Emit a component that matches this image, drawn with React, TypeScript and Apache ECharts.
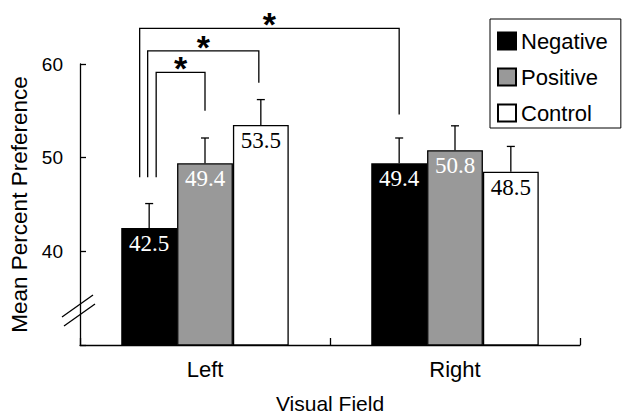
import React, { useEffect, useRef } from 'react';
import * as echarts from 'echarts';

const categories = ['Left', 'Right'];
const seriesNames = ['Negative', 'Positive', 'Control'];
const seriesColors = ['#000000', '#999999', '#ffffff'];
const labelColors = ['#ffffff', '#ffffff', '#000000'];
const negativeValues = [42.5, 49.4];
const positiveValues = [49.4, 50.8];
const controlValues = [53.5, 48.5];
const negativeErrors = [2.6, 2.7];
const positiveErrors = [2.7, 2.6];
const controlErrors = [2.7, 2.7];

// significance brackets: [category, seriesIndex] for each end
const bracketLeft = [[0, 0], [0, 0], [0, 0]];
const bracketRight = [[0, 1], [0, 2], [1, 0]];
const bracketLevels = [59.1, 61.4, 63.8];
const bracketLeftFoot = [47.9, 47.9, 47.9];
const bracketRightFoot = [55.0, 58.0, 54.6];
const bracketMarks = ['*', '*', '*'];

const allValues = [negativeValues, positiveValues, controlValues];
const allErrors = [negativeErrors, positiveErrors, controlErrors];

const CATEGORY_GAP = 0.33;
const FONT = '"Liberation Sans", Arial, sans-serif';
const SERIF = '"Liberation Serif", "Times New Roman", serif';

export default function App() {
  const ref = useRef<HTMLDivElement>(null);

  useEffect(() => {
    if (!ref.current) return;
    const chart = echarts.init(ref.current, undefined, { renderer: 'svg' });

    const barOffset = (api: any, seriesIdx: number) => {
      const band = api.size([1, 0])[0];
      const barW = (band * (1 - CATEGORY_GAP)) / 3;
      return (seriesIdx - 1) * barW;
    };

    const barSeries = seriesNames.map((name, idx) => ({
      type: 'bar',
      name,
      data: allValues[idx],
      barGap: '0%',
      barCategoryGap: CATEGORY_GAP * 100 + '%',
      itemStyle: { color: seriesColors[idx], borderColor: '#000', borderWidth: 1.3 },
      label: {
        show: true,
        position: 'insideTop',
        distance: 4,
        color: labelColors[idx],
        fontFamily: SERIF,
        fontSize: 23,
        formatter: (p: any) => p.value.toFixed(1),
      },
      z: 2,
    }));

    const errorSeries = seriesNames.map((name, idx) => ({
      type: 'custom',
      name: name + ' SE',
      data: allValues[idx].map((v, i) => [i, v, v + allErrors[idx][i]]),
      encode: { x: 0, y: [1, 2] },
      clip: false,
      z: 3,
      renderItem: (params: any, api: any) => {
        const cat = api.value(0);
        const base = api.coord([cat, api.value(1)]);
        const top = api.coord([cat, api.value(2)]);
        const x = base[0] + barOffset(api, idx);
        return {
          type: 'group',
          children: [
            { type: 'line', shape: { x1: x, y1: base[1], x2: x, y2: top[1] }, style: { stroke: '#000', lineWidth: 1.3 } },
            { type: 'line', shape: { x1: x - 4, y1: top[1], x2: x + 4, y2: top[1] }, style: { stroke: '#000', lineWidth: 1.3 } },
          ],
        };
      },
    }));

    const leftShift = [7, -1.5, -9.5];
    const rightShift = [0, -2, 0];

    const bracketSeries = {
      type: 'custom',
      name: 'brackets',
      data: bracketLevels.map((lvl, i) => [bracketLeft[i][0], lvl, bracketLeftFoot[i], bracketRightFoot[i], bracketRight[i][0]]),
      encode: { x: 0, y: [1, 2, 3] },
      clip: false,
      z: 4,
      renderItem: (params: any, api: any) => {
        const i = params.dataIndex;
        const lCat = api.value(0);
        const rCat = api.value(4);
        const level = api.coord([lCat, api.value(1)]);
        const lFoot = api.coord([lCat, api.value(2)]);
        const rFoot = api.coord([rCat, api.value(3)]);
        const lx = lFoot[0] + barOffset(api, bracketLeft[i][1]) + leftShift[i];
        const rx = rFoot[0] + barOffset(api, bracketRight[i][1]) + rightShift[i];
        const y = level[1];
        return {
          type: 'group',
          children: [
            {
              type: 'polyline',
              shape: { points: [[lx, lFoot[1]], [lx, y], [rx, y], [rx, rFoot[1]]] },
              style: { stroke: '#000', lineWidth: 1.3, fill: 'none' },
            },
            {
              type: 'text',
              x: (lx + rx) / 2,
              y: y - 4,
              style: {
                text: bracketMarks[i],
                fontSize: 34,
                fontWeight: 'bold',
                fontFamily: FONT,
                align: 'center',
                verticalAlign: 'middle',
                fill: '#000',
              },
            },
          ],
        };
      },
    };

    chart.setOption({
      animation: false,
      backgroundColor: '#fff',
      textStyle: { fontFamily: FONT },
      grid: { left: 80, right: 44, top: 64, bottom: 69, outerBoundsMode: 'none', containLabel: false },
      legend: {
        data: seriesNames,
        orient: 'vertical',
        left: 490,
        top: 19,
        itemWidth: 18,
        itemHeight: 17,
        itemGap: 14,
        padding: [11, 13, 4, 7],
        borderColor: '#000',
        borderWidth: 1,
        icon: 'rect',
        textStyle: { fontSize: 22, color: '#000', fontFamily: FONT },
      },
      xAxis: {
        type: 'category',
        data: categories,
        name: 'Visual Field',
        nameLocation: 'middle',
        nameGap: 48,
        nameTextStyle: { fontSize: 21, color: '#000', fontFamily: FONT },
        axisLine: { lineStyle: { color: '#000', width: 1.3 } },
        axisTick: { show: true, inside: true, length: 7, lineStyle: { color: '#000', width: 1.3 } },
        axisLabel: { fontSize: 22, color: '#000', margin: 13, fontFamily: FONT },
      },
      yAxis: {
        type: 'value',
        min: 30,
        max: 60,
        interval: 10,
        name: 'Mean Percent Preference',
        nameLocation: 'middle',
        nameGap: 47,
        nameTextStyle: { fontSize: 22.5, color: '#000', fontFamily: FONT },
        splitLine: { show: false },
        axisLine: { show: true, lineStyle: { color: '#000', width: 1.3 } },
        axisTick: { show: true, inside: true, length: 6, lineStyle: { color: '#000', width: 1.3 } },
        axisLabel: {
          fontSize: 19,
          color: '#000',
          margin: 17,
          fontFamily: FONT,
          formatter: (v: number) => (v === 30 ? '' : String(v)),
        },
      },
      graphic: [
        { type: 'line', shape: { x1: 62, y1: 317, x2: 93, y2: 295 }, style: { stroke: '#000', lineWidth: 1.3 } },
        { type: 'line', shape: { x1: 64, y1: 326, x2: 95, y2: 304 }, style: { stroke: '#000', lineWidth: 1.3 } },
      ],
      series: [...barSeries, ...errorSeries, bracketSeries],
    });

    return () => chart.dispose();
  }, []);

  return <div ref={ref} style={{ width: 624, height: 414, position: 'absolute', left: 0, top: 0 }} />;
}
